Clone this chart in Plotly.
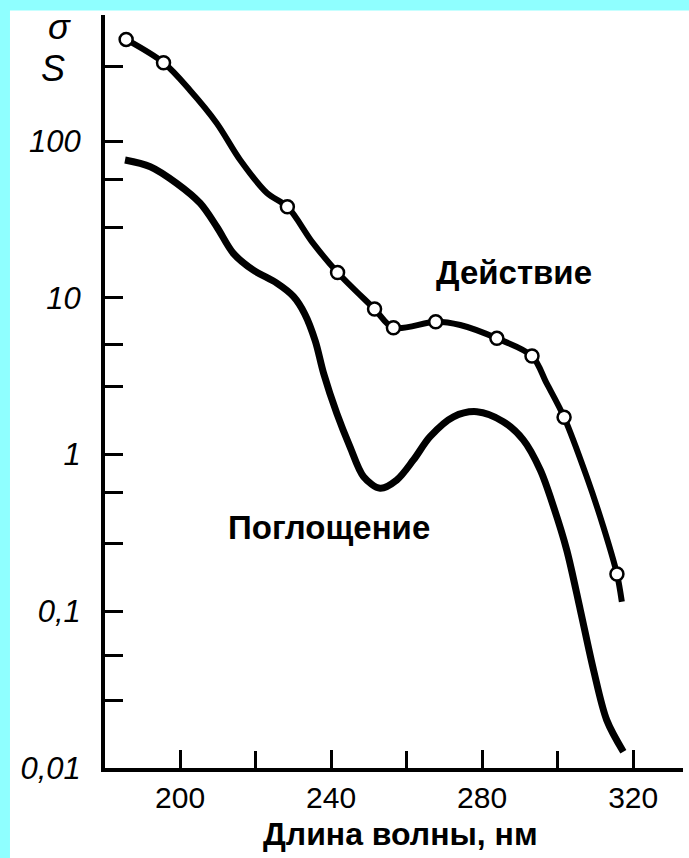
import plotly.graph_objects as go

# --- data ---
# Action spectrum ("Действие"): measured points (open circles)
action_pts_nm = [185.7, 195.6, 228.4, 241.7, 251.5, 256.5, 267.7, 283.9, 293.2, 301.7, 315.7]
action_pts_val = [445, 316, 38.1, 14.5, 8.47, 6.44, 7.03, 5.51, 4.25, 1.73, 0.173]

# Action spectrum: drawn smooth curve
action_line_nm = [185.7, 195.6, 202.6, 209.7, 215.9, 223.0, 228.4, 235.2, 241.7, 251.5, 256.5,
                  267.7, 274.2, 283.9, 293.2, 297.1, 301.7, 307.7, 312.1, 315.7, 317.0]
action_line_val = [445, 316, 211, 130, 75.7, 46.6, 38.1, 22.3, 14.5, 8.47, 6.44,
                   7.03, 6.70, 5.51, 4.25, 2.84, 1.73, 0.721, 0.346, 0.173, 0.115]

# Absorption spectrum ("Поглощение")
absorb_nm = [185.4, 192.1, 199.1, 205.3, 209.7, 214.1, 219.4, 225.6, 230.0, 233.0, 235.8,
             238.0, 241.5, 245.0, 248.6, 253.0, 257.4, 261.8, 266.2, 272.4, 278.6, 285.6,
             290.9, 295.4, 298.9, 302.4, 306.0, 309.5, 313.0, 317.4]
absorb_val = [75.7, 68.6, 53.7, 40.1, 28.4, 19.2, 15.0, 12.4, 10.2, 7.9, 5.3,
              3.30, 1.83, 1.12, 0.722, 0.609, 0.688, 0.923, 1.30, 1.74, 1.875, 1.62,
              1.24, 0.796, 0.465, 0.246, 0.102, 0.0422, 0.0202, 0.0127]

x_tickvals = [200, 240, 280, 320]
x_ticktext = ["200", "240", "280", "320"]
x_minor = [220, 260, 300]

y_tickvals = [0.01, 0.1, 1, 10, 100]
y_ticktext = ["0,01", "0,1", "1", "10", "100"]
y_minor = [0.027, 0.052, 0.27, 0.57, 2.7, 5.0, 28, 57, 300]

FONT = "Liberation Sans, Arial, sans-serif"
CYAN = "#8FFFFF"

fig = go.Figure()
fig.add_trace(go.Scatter(x=absorb_nm, y=absorb_val, mode="lines",
                         line=dict(color="black", width=7, shape="spline", smoothing=0.9),
                         hoverinfo="skip"))
fig.add_trace(go.Scatter(x=action_line_nm, y=action_line_val, mode="lines",
                         line=dict(color="black", width=6, shape="spline", smoothing=0.9),
                         hoverinfo="skip"))
fig.add_trace(go.Scatter(x=action_pts_nm, y=action_pts_val, mode="markers",
                         marker=dict(symbol="circle", size=13, color="white",
                                     line=dict(color="black", width=2.5)),
                         hoverinfo="skip"))

fig.update_xaxes(range=[180.1, 333.2], showgrid=False, zeroline=False, automargin=False,
                 showline=True, linecolor="black", linewidth=4,
                 ticks="inside", ticklen=18, tickwidth=3, tickcolor="black",
                 tickmode="array", tickvals=x_tickvals, ticktext=x_ticktext,
                 minor=dict(tickmode="array", tickvals=x_minor, ticks="inside",
                            ticklen=17, tickwidth=3, tickcolor="black", showgrid=False),
                 tickfont=dict(family=FONT, size=30, color="black"),
                 ticklabelstandoff=0)
fig.update_yaxes(type="log", range=[-2, 2.804], showgrid=False, zeroline=False, automargin=False,
                 showline=True, linecolor="black", linewidth=4,
                 ticks="inside", ticklen=18, tickwidth=3, tickcolor="black",
                 tickmode="array", tickvals=y_tickvals, ticktext=y_ticktext,
                 minor=dict(tickmode="array", tickvals=y_minor, ticks="inside",
                            ticklen=18, tickwidth=3, tickcolor="black", showgrid=False),
                 tickfont=dict(family=FONT, size=31, color="black", style="italic"),
                 ticklabelstandoff=14)

# white sheet over a cyan page, leaving cyan bands at the top and left edges
fig.add_shape(type="rect", xref="paper", yref="paper",
              x0=-0.1644, x1=1.05, y0=-0.15, y1=1.006,
              fillcolor="white", line=dict(width=0), layer="below")

ann = dict(xref="paper", yref="paper", showarrow=False, xanchor="center", yanchor="middle")
fig.add_annotation(text="Действие", x=0.7076, y=0.6574,
                   font=dict(family=FONT, size=33, color="black", weight="bold"), **ann)
fig.add_annotation(text="Поглощение", x=0.3875, y=0.320,
                   font=dict(family=FONT, size=33, color="black", weight="bold"), **ann)
fig.add_annotation(text="Длина волны, нм", x=0.512, y=-0.087,
                   font=dict(family=FONT, size=32, color="black", weight="bold"), **ann)
fig.add_annotation(text="σ", x=-0.078, y=0.985,
                   font=dict(family=FONT, size=36, color="black", style="italic"), **ann)
fig.add_annotation(text="S", x=-0.090, y=0.9296,
                   font=dict(family=FONT, size=36, color="black", style="italic"), **ann)

fig.update_layout(width=689, height=858, margin=dict(l=105, r=6, t=15, b=90),
                  plot_bgcolor="white", paper_bgcolor=CYAN, showlegend=False)

fig.write_html("out.html", config={"displayModeBar": False},
               post_script="document.body.style.margin='0';document.body.style.padding='0';"
                           "document.body.style.overflow='hidden';")
